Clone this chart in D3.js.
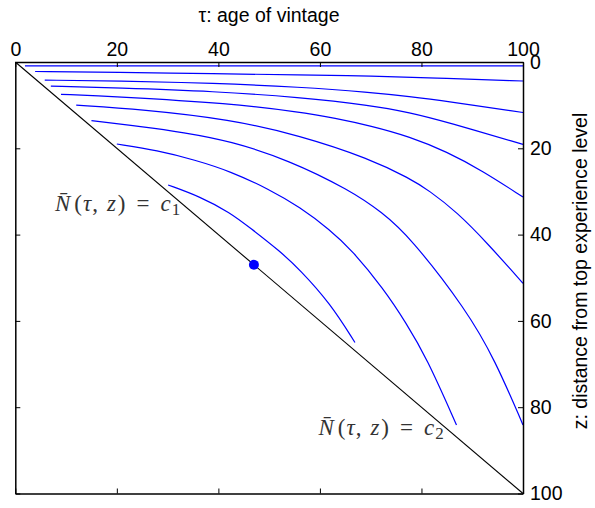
<!DOCTYPE html>
<html>
<head>
<meta charset="utf-8">
<script src="https://cdn.jsdelivr.net/npm/d3@7"></script>
<style>
  body { margin: 0; background: #fff; }
  .axis text { font-family: "Liberation Sans", Arial, sans-serif; font-size: 19.5px; fill: #000; }
  .axis path, .axis line { stroke: #000; }
  .eq { font-family: "Liberation Serif", "DejaVu Serif", serif; font-size: 23px; fill: #333; letter-spacing: 1px; }
</style>
</head>
<body>
<script>
// tick values on both axes
var tauTicks = [0, 20, 40, 60, 80, 100];
var zTicks = [0, 20, 40, 60, 80, 100];

// iso-lines as [tau, z]
var curve1 = [[1.9, 0.9], [50, 0.9], [100, 0.9]];
var curve2 = [[3.9, 2.2], [20, 2.4], [39.3, 2.7], [56, 3.0], [69.8, 3.2], [85, 3.8], [100, 4.4]];
var curve3 = [[5.8, 4.2], [20, 4.4], [39.3, 4.9], [56, 5.8], [69.8, 7.0], [77.7, 8.0], [85, 9.1], [100, 11.7]];
var curve4 = [[7.0, 5.6], [20, 6.0], [39.3, 6.8], [56, 8.2], [69.8, 10.0], [77.7, 11.7], [85, 13.9], [100, 19.1]];
var curve5 = [[9.0, 7.5], [20, 8.0], [42.3, 9.6], [56, 11.6], [63, 13.0], [70, 14.8], [77.7, 17.3], [85, 20.8], [92, 25.2], [100, 31.3]];
var curve6 = [[12.0, 10.0], [25, 11.0], [42.3, 13.3], [56, 17.0], [69.8, 22.4], [77.7, 27.0], [81.4, 29.7], [87, 34.8], [93, 42], [100, 51.3]];
var curve7 = [[15.0, 13.6], [25, 15.0], [33, 16.3], [42.3, 18.3], [53.8, 22.7], [65.9, 29.7], [72.2, 34.8], [77.7, 40.5], [88.9, 57.5], [94.5, 69.1], [100, 84.1]];
var curve8 = [[20.0, 19.0], [28, 20.5], [35.4, 22.7], [42.3, 25.3], [50, 29.5], [56, 33.6], [62, 38.9], [66.3, 43.6], [72.5, 52.5], [77, 60.5], [81, 68.5], [86.9, 84.1]];
var curve9 = [[30.1, 28.5], [36.4, 31.2], [42.3, 34.9], [46.2, 38.4], [52.1, 43.8], [56.1, 48.2], [62, 55.9], [66.9, 65.0]];
var curves = [curve1, curve2, curve3, curve4, curve5, curve6, curve7, curve8, curve9];

var diagonal = [[0, 0], [100, 100]];
var marker = [47, 47];

var w = 595;
var h = 508;
var plotL = 15.3, plotR = 523, plotT = 62, plotB = 493.5;

var svg = d3.select("body")
            .append("svg")
            .attr("width", w)
            .attr("height", h);

var xScale = d3.scaleLinear()
               .domain([0, 100])
               .range([plotL, plotR]);

var yScale = d3.scaleLinear()
               .domain([0, 100])
               .range([plotT, plotB]);

// basis spline smooths out small reading errors
var line = d3.line()
             .x(function(d) { return xScale(d[0]); })
             .y(function(d) { return yScale(d[1]); })
             .curve(d3.curveBasis);

// diagonal boundary
svg.append("path")
   .attr("d", d3.line().x(function(d) { return xScale(d[0]); }).y(function(d) { return yScale(d[1]); })(diagonal))
   .attr("fill", "none")
   .attr("stroke", "#000")
   .attr("stroke-width", 1.1);

svg.selectAll("path.curve")
   .data(curves)
   .enter()
   .append("path")
     .attr("class", "curve")
     .attr("d", line)
     .attr("fill", "none")
     .attr("stroke", "#0000ff")
     .attr("stroke-width", 1.2);

svg.append("circle")
   .attr("cx", xScale(marker[0]))
   .attr("cy", yScale(marker[1]))
   .attr("r", 5)
   .attr("fill", "#0000ff");

// equation labels
var eq1 = svg.append("text").attr("class", "eq")
             .attr("x", xScale(7.8)).attr("y", yScale(34.5));
var eq2 = svg.append("text").attr("class", "eq")
             .attr("x", xScale(59.7)).attr("y", yScale(86.4));
[[eq1, "1"], [eq2, "2"]].forEach(function(p) {
  var t = p[0];
  t.append("tspan").attr("font-style", "italic").text("N\u0304");
  t.append("tspan").attr("dx", 3).text("(");
  t.append("tspan").attr("font-style", "italic").text("\u03c4");
  t.append("tspan").text(",");
  t.append("tspan").attr("dx", 8).attr("font-style", "italic").text("z");
  t.append("tspan").attr("dx", 1).text(")");
  t.append("tspan").attr("dx", 10).text("=");
  t.append("tspan").attr("dx", 10).attr("font-style", "italic").text("c");
  t.append("tspan").attr("dy", 4).attr("font-size", "17px").text(p[1]);
});

// axes, ticks pointing inwards
var topAxis = d3.axisTop(xScale).tickValues(tauTicks).tickSizeInner(-5).tickSizeOuter(0).tickPadding(6);
var bottomAxis = d3.axisBottom(xScale).tickValues(tauTicks).tickSizeInner(-5).tickSizeOuter(0).tickFormat("");
var leftAxis = d3.axisLeft(yScale).tickValues(zTicks).tickSizeInner(-5).tickSizeOuter(0).tickFormat("");
var rightAxis = d3.axisRight(yScale).tickValues(zTicks).tickSizeInner(-5).tickSizeOuter(0).tickPadding(7);

svg.append("g").attr("class", "axis").attr("transform", "translate(0," + plotT + ")").call(topAxis);
svg.append("g").attr("class", "axis").attr("transform", "translate(0," + plotB + ")").call(bottomAxis);
svg.append("g").attr("class", "axis").attr("transform", "translate(" + plotL + ",0)").call(leftAxis);
svg.append("g").attr("class", "axis").attr("transform", "translate(" + plotR + ",0)").call(rightAxis);

svg.selectAll(".axis path").attr("stroke-width", 1.5);
svg.selectAll(".axis text").attr("font-family", null).attr("font-size", null);

// axis titles
svg.append("text")
   .attr("x", 269)
   .attr("y", 22)
   .attr("text-anchor", "middle")
   .style("font-family", "'Liberation Sans', Arial, sans-serif")
   .style("font-size", "19.5px")
   .text("\u03c4: age of vintage");

svg.append("text")
   .attr("transform", "translate(587,271) rotate(-90)")
   .attr("text-anchor", "middle")
   .style("font-family", "'Liberation Sans', Arial, sans-serif")
   .style("font-size", "19.5px")
   .text("z: distance from top experience level");
</script>
</body>
</html>
